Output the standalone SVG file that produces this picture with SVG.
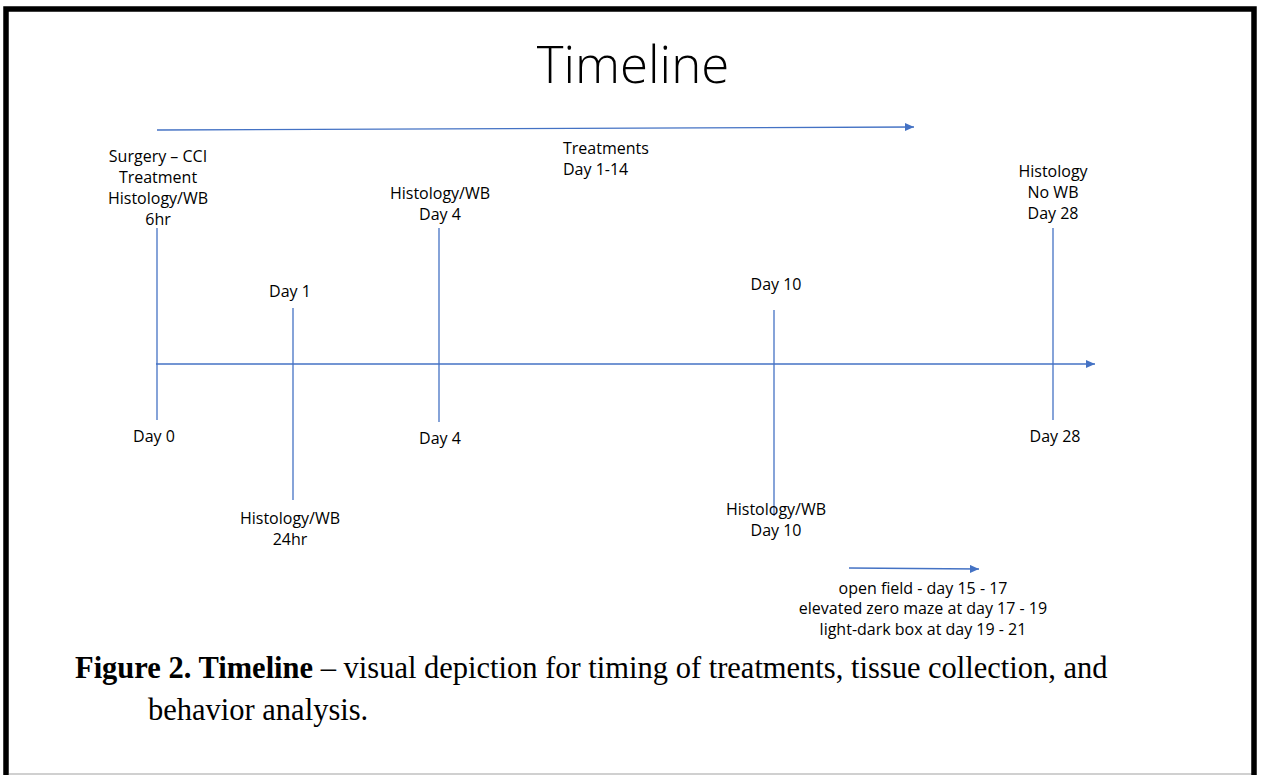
<svg xmlns="http://www.w3.org/2000/svg" width="1261" height="775" viewBox="0 0 1261 775">
<style>
.lbl{font-family:"Open Sans","Liberation Sans",sans-serif;font-size:16px;fill:#000;text-anchor:middle}
.ln{stroke:#4472C4;stroke-width:1.3;fill:none}
.cap{font-family:"Liberation Serif","Times New Roman",serif;font-size:30.5px;fill:#000}
</style>
<defs>
<marker id="arr" markerUnits="userSpaceOnUse" markerWidth="10" markerHeight="8" refX="9" refY="4" orient="auto">
<path d="M0,0 L9,4 L0,8 Z" fill="#4472C4"/>
</marker>
</defs>
<rect x="0" y="0" width="1261" height="775" fill="#fff"/>
<line x1="9" y1="774" x2="1252" y2="774" stroke="#d0d0d0" stroke-width="2"/>
<path d="M6,775 L6,9 L1254,9 L1254,775" fill="none" stroke="#000" stroke-width="5.5"/>
<text x="633" y="83" text-anchor="middle" style="font-family:'Open Sans','Liberation Sans',sans-serif;font-weight:300;font-size:51px" fill="#000">Timeline</text>
<g id="connectors">
<line class="ln" x1="157" y1="130" x2="914" y2="127" marker-end="url(#arr)"/>
<line class="ln" x1="156" y1="364" x2="1095" y2="364" marker-end="url(#arr)"/>
<line class="ln" x1="849" y1="568" x2="979" y2="569" marker-end="url(#arr)"/>
<line class="ln" x1="157" y1="228" x2="157" y2="420"/>
<line class="ln" x1="293" y1="308" x2="293" y2="500"/>
<line class="ln" x1="439" y1="228" x2="439" y2="422"/>
<line class="ln" x1="774" y1="310" x2="774" y2="516"/>
<line class="ln" x1="1053" y1="228" x2="1053" y2="420"/>
</g>
<g id="treatments">
<text class="lbl" x="563" y="154" style="text-anchor:start">Treatments</text>
<text class="lbl" x="563" y="175" style="text-anchor:start">Day 1-14</text>
</g>
<g id="day0">
<text class="lbl" x="158" y="162">Surgery – CCI</text>
<text class="lbl" x="158" y="183">Treatment</text>
<text class="lbl" x="158" y="204">Histology/WB</text>
<text class="lbl" x="158" y="225">6hr</text>
<text class="lbl" x="154" y="442">Day 0</text>
</g>
<g id="day1">
<text class="lbl" x="290" y="297">Day 1</text>
<text class="lbl" x="290" y="524">Histology/WB</text>
<text class="lbl" x="290" y="545">24hr</text>
</g>
<g id="day4">
<text class="lbl" x="440" y="199">Histology/WB</text>
<text class="lbl" x="440" y="220">Day 4</text>
<text class="lbl" x="440" y="444">Day 4</text>
</g>
<g id="day10">
<text class="lbl" x="776" y="290">Day 10</text>
<text class="lbl" x="776" y="515">Histology/WB</text>
<text class="lbl" x="776" y="536">Day 10</text>
</g>
<g id="day28">
<text class="lbl" x="1053" y="177">Histology</text>
<text class="lbl" x="1053" y="198">No WB</text>
<text class="lbl" x="1053" y="219">Day 28</text>
<text class="lbl" x="1055" y="442">Day 28</text>
</g>
<g id="behavior">
<text class="lbl" x="923" y="594">open field - day 15 - 17</text>
<text class="lbl" x="923" y="614">elevated zero maze at day 17 - 19</text>
<text class="lbl" x="923" y="635">light-dark box at day 19 - 21</text>
</g>
<g id="caption">
<text class="cap" x="75" y="678"><tspan font-weight="bold">Figure 2. Timeline</tspan> – visual depiction for timing of treatments, tissue collection, and</text>
<text class="cap" x="148" y="720">behavior analysis.</text>
</g>
</svg>
